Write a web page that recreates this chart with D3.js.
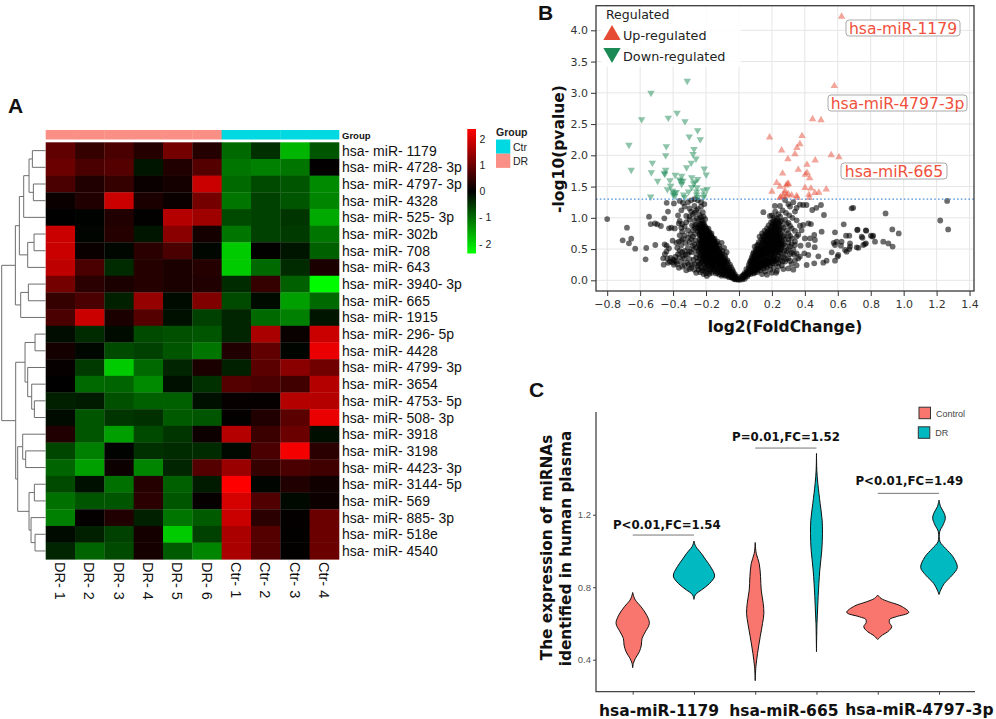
<!DOCTYPE html>
<html>
<head>
<meta charset="utf-8">
<script src="https://cdn.jsdelivr.net/npm/d3@7"></script>
<style>
  html, body { margin: 0; padding: 0; background: #fff; }
  svg { display: block; }
</style>
</head>
<body>
<div class="container"></div>
<script>
/* ===== DATA ===== */

// panel A
var mirnas = ["hsa- miR- 1179","hsa- miR- 4728- 3p","hsa- miR- 4797- 3p","hsa- miR- 4328","hsa- miR- 525- 3p",
  "hsa- miR- 302b","hsa- miR- 708","hsa- miR- 643","hsa- miR- 3940- 3p","hsa- miR- 665","hsa- miR- 1915",
  "hsa- miR- 296- 5p","hsa- miR- 4428","hsa- miR- 4799- 3p","hsa- miR- 3654","hsa- miR- 4753- 5p","hsa- miR- 508- 3p",
  "hsa- miR- 3918","hsa- miR- 3198","hsa- miR- 4423- 3p","hsa- miR- 3144- 5p","hsa- miR- 569","hsa- miR- 885- 3p",
  "hsa- miR- 518e","hsa- miR- 4540"];
var samples = ["DR- 1","DR- 2","DR- 3","DR- 4","DR- 5","DR- 6","Ctr- 1","Ctr- 2","Ctr- 3","Ctr- 4"];
var sampleGroup = ["DR","DR","DR","DR","DR","DR","Ctr","Ctr","Ctr","Ctr"];
var heatValues = [
  [.9,.5,.7,.35,1.1,.35,-1,-.45,-1.7,-.8],
  [1,.7,.8,-.2,.3,.8,-1.1,-1.2,-1.1,.02],
  [.7,.3,.5,.1,.2,1.9,-1,-.7,-.8,-1.3],
  [.1,.3,1.9,.25,.1,1.1,-1.1,-.6,-.8,-1.25],
  [0,-.02,.3,.03,1.7,1.5,-.7,-.6,-.5,-1.6],
  [1.9,-.05,.35,-.2,1.3,.2,-1.1,-.6,-.55,-1.1],
  [1.9,.1,-.07,.4,.7,-.06,-1.9,.03,-.2,-.9],
  [1.8,.7,-.4,.35,.25,.35,-1.9,-1,-.4,.25],
  [1.1,.4,.25,.35,.25,.3,-.4,.5,-.9,-2.35],
  [.5,.7,-.3,1.4,-.1,1.2,-.7,-.1,-1.5,-1],
  [.7,1.9,.25,.8,-.15,-.6,-.35,-1,-1.2,-.2],
  [-.12,-.4,-.1,-.7,-.75,-.8,-.35,1.6,.08,1.9],
  [.2,-.07,-.7,-.6,-.8,-1.1,.3,.9,-.05,2.2],
  [.07,-.55,-1.9,-1,-.35,.25,-.3,.85,1.3,1.05],
  [0,-1,-.95,-1.3,-.15,-.45,.8,.7,.6,1.7],
  [-.3,-.25,-.75,-.9,-.9,-.15,.06,.06,1.7,1.7],
  [-.1,-.8,-.5,-.45,-.85,-.8,.03,.3,.85,2.2],
  [.3,-.8,-1.5,-.7,-.5,.12,1.7,.55,1,-.13],
  [-.65,-1.2,-.03,-.45,-.4,-.4,-.08,.7,2.3,.4],
  [-.95,-1.5,.12,-1.25,-.35,.8,1.45,.5,.7,.6],
  [-.7,-.15,-1.05,.35,-.9,-.25,2.4,-.05,.3,.15],
  [-1.05,-.8,-.8,.4,-.8,.07,2,.75,-.08,.12],
  [-1.2,.05,.3,-.3,-1.1,-.85,1.9,.4,.05,1],
  [-.1,-.3,-.6,.2,-1.9,-.6,1.6,.8,.03,1],
  [-.35,-.95,-.7,.2,-.85,-1.25,1.6,.8,.03,1]
];
var heatTicks = [2, 1, 0, -1, -2];
// row dendrogram: [merge height, child, child], a number is a row index
var rowTree = [132,
  [91,
    [79,
      [66, [50, [40, 0, 1], [37, 2, 3]], 4],
      [54, [35, 5, 6], 7]],
    [75, [52, 8, 9], 10]],
  [90,
    [62, [32, 11, 12], [54, 13, [42, 14, [34, 15, 16]]]],
    [84,
      [69, 17, [60, 18, 19]],
      [50, [34, 20, 21], [44, 22, [32, 23, 24]]]]]
];

// panel B
var upPoints = [[.623,4.22],[.579,3.11],[.447,2.58],[.498,2.565],[.186,2.288],[.383,2.31],[.37,2.18],[.352,2.12],[.259,2.08],[.34,2.02],
  [.56,2.005],[.607,1.97],[.297,1.94],[.463,1.92],[.413,1.85],[.36,1.77],[.265,1.71],[.413,1.72],[.403,1.69],[.429,1.637],
  [.229,1.56],[.249,1.5],[.286,1.52],[.295,1.54],[.3,1.545],[.401,1.48],[.437,1.47],[.53,1.455],[.2,1.42],[.461,1.4],
  [.485,1.405],[.279,1.43],[.275,1.39],[.299,1.38],[.289,1.36],[.32,1.36],[.35,1.35],[.425,1.37],[.253,1.33],[.269,1.34],
  [.427,1.32],[.249,1.32],[.354,1.32]];
var downPoints = [[-.314,3.19],[-.534,2.997],[-.591,2.576],[-.429,2.6],[-.376,2.68],[-.328,2.544],[-.251,2.4],[-.302,2.3],[-.235,2.256],[-.668,2.165],
  [-.441,2.144],[-.273,2.1],[-.279,2.02],[-.445,2],[-.261,1.945],[-.29,1.88],[-.526,1.88],[-.318,1.807],[-.211,1.785],[-.654,1.765],
  [-.532,1.728],[-.445,1.765],[-.453,1.72],[-.45,1.7],[-.199,1.69],[-.387,1.685],[-.348,1.67],[-.287,1.648],[-.419,1.6],[-.494,1.589],
  [-.351,1.59],[-.36,1.61],[-.34,1.59],[-.251,1.62],[-.267,1.58],[-.275,1.55],[-.348,1.54],[-.415,1.51],[-.287,1.49],[-.255,1.485],
  [-.435,1.456],[-.306,1.42],[-.194,1.46],[-.215,1.44],[-.403,1.43],[-.393,1.4],[-.381,1.41],[-.257,1.42],[-.399,1.37],[-.536,1.338],
  [-.336,1.37],[-.33,1.33],[-.257,1.37],[-.251,1.33],[-.211,1.37],[-.215,1.33],[-.389,1.35]];
var grayLeftSparse = [[-.8,.98],[-.546,1.018],[-.453,.992],[-.431,1.1],[-.439,1.24],[-.395,1.23],[-.36,1.27],[-.34,1.24],[-.31,1.25],[-.29,1.28],
  [-.27,1.3],[-.25,1.28],[-.23,1.25],[-.21,1.22],[-.33,1.18],[-.3,1.15],[-.27,1.19],[-.25,1.14],[-.23,1.18],[-.35,1.12],
  [-.29,1.1],[-.27,1.08],[-.28,1.05],[-.26,1.12],[-.24,1.05],[-.22,1.09],[-.37,1.04],[-.32,1.03],[-.3,1.02],[-.68,.842],
  [-.536,.9],[-.51,.91],[-.496,.896],[-.474,.869],[-.425,.832],[-.411,.842],[-.365,.91],[-.36,.95],[-.345,.9],[-.33,.86],
  [-.32,.93],[-.3,.97],[-.285,.88],[-.27,.96],[-.255,.99],[-.31,.8],[-.345,.78],[-.36,.72],[-.295,.74],[-.28,.8],
  [-.706,.64],[-.654,.667],[-.668,.592],[-.63,.506],[-.563,.517],[-.567,.336],[-.508,.565],[-.451,.576],[-.439,.554],[-.425,.512],
  [-.46,.352],[-.457,.25],[-.403,.634],[-.38,.6],[-.365,.62],[-.35,.56],[-.34,.66],[-.325,.6],[-.31,.52],[-.375,.52],
  [-.36,.47],[-.345,.45],[-.385,.38],[-.4,.33],[-.415,.36],[-.435,.35],[-.38,.3],[-.395,.25],[-.37,.42],[-.33,.47],
  [-.31,.42],[-.33,.35],[-.35,.3],[-.365,.2],[-.315,.28],[-.3,.34],[-.29,.45],[-.28,.55],[-.3,.61],[-.265,.64],
  [-.285,.25],[-.3,.18],[-.27,.17],[-.25,.22],[-.26,.12],[-.235,.13],[-.215,.1],[-.195,.07],[-.275,.33],[-.26,.42]];
var grayLeftDense = [[-.01,.02],[-.02,.015],[-.025,.03],[-.03,.02],[-.015,.035],[-.005,.01],[-.02,.055],[-.03,.06],[-.04,.05],[-.045,.045],
  [-.05,.06],[-.035,.04],[-.06,.05],[-.03,.085],[-.045,.08],[-.055,.09],[-.065,.075],[-.075,.08],[-.04,.1],[-.04,.125],
  [-.055,.12],[-.07,.11],[-.08,.125],[-.09,.115],[-.1,.1],[-.065,.135],[-.055,.16],[-.07,.155],[-.085,.165],[-.095,.15],
  [-.105,.16],[-.12,.14],[-.08,.18],[-.06,.2],[-.075,.205],[-.09,.195],[-.105,.2],[-.12,.19],[-.135,.185],[-.15,.17],
  [-.1,.22],[-.07,.24],[-.085,.25],[-.1,.245],[-.115,.235],[-.13,.25],[-.145,.23],[-.16,.21],[-.175,.18],[-.08,.29],
  [-.095,.28],[-.11,.295],[-.125,.28],[-.14,.29],[-.155,.27],[-.17,.255],[-.185,.23],[-.2,.2],[-.09,.33],[-.105,.32],
  [-.12,.335],[-.135,.325],[-.15,.335],[-.165,.31],[-.18,.3],[-.195,.28],[-.21,.25],[-.1,.37],[-.115,.365],[-.13,.375],
  [-.145,.37],[-.16,.375],[-.175,.35],[-.19,.34],[-.205,.32],[-.225,.3],[-.11,.41],[-.125,.42],[-.14,.41],[-.155,.42],
  [-.17,.41],[-.185,.395],[-.2,.38],[-.215,.36],[-.24,.35],[-.12,.46],[-.135,.455],[-.15,.465],[-.165,.455],[-.18,.45],
  [-.195,.44],[-.21,.42],[-.23,.41],[-.13,.5],[-.145,.505],[-.16,.5],[-.175,.5],[-.19,.49],[-.205,.48],[-.22,.46],
  [-.245,.46],[-.14,.55],[-.155,.545],[-.17,.55],[-.185,.54],[-.2,.535],[-.215,.52],[-.235,.51],[-.145,.59],[-.16,.6],
  [-.175,.59],[-.19,.585],[-.205,.58],[-.22,.57],[-.245,.56],[-.15,.64],[-.165,.635],[-.18,.64],[-.195,.63],[-.21,.62],
  [-.23,.61],[-.16,.68],[-.175,.68],[-.19,.675],[-.205,.67],[-.22,.66],[-.24,.65],[-.17,.72],[-.185,.73],[-.2,.72],
  [-.215,.71],[-.23,.7],[-.18,.77],[-.195,.77],[-.21,.76],[-.225,.75],[-.24,.74],[-.2,.81],[-.215,.82],[-.23,.8],
  [-.25,.79],[-.205,.86],[-.22,.87],[-.235,.85],[-.25,.84],[-.265,.83],[-.215,.92],[-.23,.91],[-.245,.9],[-.26,.89],
  [-.225,.96],[-.24,.97],[-.205,.98],[-.215,1.02],[-.23,1.01],[-.19,.64],[-.14,.49],[-.125,.44],[-.11,.38],[-.09,.27],
  [-.13,.62],[-.12,.55],[-.1,.47],[-.085,.4],[-.07,.32],[-.055,.25],[-.04,.17],[-.105,.6],[-.09,.52],[-.075,.45]];
// second pass over the black part of the left arm
var grayLeftFill = [[-.112,.213],[-.127,.171],[-.143,.208],[-.158,.243],[-.172,.221],[-.093,.228],[-.118,.262],[-.136,.268],[-.152,.301],[-.166,.284],
  [-.183,.268],[-.197,.247],[-.107,.272],[-.088,.309],[-.103,.347],[-.122,.312],[-.141,.352],[-.157,.35],[-.171,.329],[-.186,.321],
  [-.202,.297],[-.218,.281],[-.113,.392],[-.128,.395],[-.146,.392],[-.162,.396],[-.178,.381],[-.193,.362],[-.209,.346],[-.224,.333],
  [-.117,.437],[-.133,.433],[-.149,.44],[-.163,.437],[-.177,.43],[-.192,.418],[-.207,.4],[-.222,.385],[-.238,.38],[-.126,.479],
  [-.142,.482],[-.156,.479],[-.171,.478],[-.186,.471],[-.201,.459],[-.216,.441],[-.232,.436],[-.135,.526],[-.151,.524],[-.166,.525],
  [-.181,.519],[-.196,.513],[-.211,.5],[-.227,.488],[-.243,.49],[-.143,.571],[-.159,.566],[-.174,.572],[-.189,.562],[-.204,.556],
  [-.219,.543],[-.234,.535],[-.153,.615],[-.168,.612],[-.183,.614],[-.198,.607],[-.213,.598],[-.228,.586],[-.243,.59],[-.158,.657],
  [-.173,.66],[-.188,.654],[-.202,.648],[-.217,.641],[-.232,.63],[-.167,.701],[-.182,.703],[-.197,.695],[-.211,.69],[-.226,.68],
  [-.178,.748],[-.192,.749],[-.207,.738],[-.222,.728],[-.237,.718],[-.19,.793],[-.205,.79],[-.22,.778],[-.236,.77],[-.21,.84],
  [-.226,.83],[-.242,.815],[-.198,.835],[-.222,.9],[-.238,.88],[-.212,.895],[-.185,.825],[-.167,.75],[-.148,.665],[-.137,.59],
  [-.118,.505],[-.102,.425],[-.083,.358],[-.068,.29],[-.048,.21],[-.035,.14],[-.025,.1],[-.012,.06],[-.095,.09],[-.11,.125],
  [-.13,.12],[-.145,.145],[-.16,.175],[-.175,.145],[-.19,.17],[-.205,.155],[-.215,.19],[-.23,.21],[-.245,.25],[-.25,.3],
  [-.235,.27],[-.26,.36],[-.27,.26],[-.14,.11],[-.165,.12],[-.12,.095],[-.08,.07],[-.105,.075],[-.18,.105],[-.245,.17],
  [-.225,.16],[-.2,.115],[-.29,.2],[-.305,.25],[-.32,.16],[-.345,.22],[-.33,.24],[-.39,.32],[-.405,.29],[-.42,.3],
  [-.43,.28],[-.375,.26],[-.36,.37],[-.34,.39],[-.325,.41],[-.3,.46],[-.275,.5],[-.27,.58],[-.26,.52],[-.29,.66],
  [-.31,.68],[-.33,.72],[-.28,.7],[-.265,.74],[-.27,.87],[-.35,.84],[-.39,.83],[-.44,.46],[-.45,.42],[-.35,.64]];
var grayRightSparse = [[.148,1.09],[.188,1.03],[.218,1.19],[.249,1.19],[.28,1.285],[.31,1.18],[.34,1.1],[.39,1.205],[.41,1.205],[.445,1.125],
  [.47,1.16],[.498,1.205],[.516,1.045],[.684,1.152],[.694,1.16],[.636,.896],[.718,.805],[.773,.794],[.801,.714],[.815,.714],
  [.583,.768],[.502,.778],[.437,.9],[.421,.91],[.39,.885],[.37,.875],[.457,.725],[.431,.672],[.461,.645],[.4,.67],
  [.35,.7],[.36,.73],[.65,.714],[.67,.714],[.593,.618],[.575,.6],[.583,.565],[.623,.618],[.619,.554],[.674,.592],
  [.674,.54],[.644,.485],[.745,.698],[.75,.68],[.771,.592],[.755,.565],[.826,.618],[.715,.528],[.725,.52],[.563,.448],
  [.603,.405],[.599,.38],[.654,.458],[.67,.5],[.583,.314],[.532,.314],[.512,.282],[.457,.272],[.482,.384],[.411,.245],
  [.421,.405],[.397,.432],[.37,.38],[.36,.35],[.34,.32],[.35,.43],[.33,.49],[.34,.565],[.374,.554],[.421,.565],
  [.46,.53],[.89,1.07],[.931,.815],[.97,.75],[1.222,.957],[1.27,.815],[1.264,1.27],[.876,.618],[.907,.59],[.933,.54],
  [.81,.7],[.77,.8],[.72,.81],[.765,.58],[.3,1.22],[.33,1.25],[.35,1.16],[.37,1.21],[.265,1.12],[.285,1.08],
  [.305,1.04],[.325,1],[.35,.96],[.28,.97],[.3,.92],[.32,.83],[.34,.79],[.38,.8],[.3,.75],[.28,.66],
  [.32,.67],[.3,.6],[.31,.54],[.29,.47],[.31,.42],[.3,.35],[.28,.3],[.32,.26],[.35,.24],[.26,.24],
  [.27,.18],[.23,.15],[.2,.12],[.17,.09],[.14,.1],[.3,.19],[.33,.17]];
var grayRightDense = [[.005,.01],[.012,.03],[.02,.015],[.025,.04],[.015,.06],[.03,.05],[.035,.025],[.04,.07],[.028,.085],[.05,.06],
  [.045,.1],[.035,.12],[.055,.09],[.06,.12],[.05,.14],[.07,.1],[.075,.14],[.06,.165],[.045,.18],[.085,.12],
  [.09,.16],[.075,.18],[.06,.21],[.1,.14],[.105,.18],[.09,.2],[.075,.23],[.06,.25],[.115,.17],[.12,.2],
  [.105,.225],[.09,.25],[.075,.27],[.135,.2],[.12,.24],[.105,.265],[.09,.29],[.07,.31],[.15,.23],[.135,.25],
  [.12,.28],[.105,.31],[.085,.33],[.165,.23],[.15,.27],[.135,.295],[.12,.32],[.1,.35],[.08,.38],[.18,.26],
  [.165,.29],[.15,.31],[.135,.34],[.115,.37],[.095,.4],[.195,.28],[.18,.31],[.165,.335],[.15,.36],[.13,.385],
  [.11,.42],[.09,.45],[.215,.3],[.2,.33],[.185,.355],[.165,.38],[.145,.41],[.125,.44],[.105,.47],[.225,.35],
  [.21,.38],[.195,.4],[.175,.43],[.155,.455],[.135,.48],[.115,.51],[.095,.54],[.24,.4],[.22,.43],[.205,.45],
  [.19,.47],[.17,.49],[.15,.51],[.13,.53],[.11,.56],[.25,.45],[.23,.48],[.215,.5],[.2,.52],[.18,.54],
  [.16,.56],[.14,.58],[.12,.61],[.255,.5],[.24,.53],[.225,.55],[.205,.57],[.185,.59],[.165,.61],[.145,.63],
  [.26,.56],[.24,.58],[.225,.6],[.21,.62],[.19,.64],[.17,.66],[.15,.68],[.125,.7],[.25,.63],[.235,.65],
  [.22,.67],[.2,.69],[.18,.71],[.16,.73],[.14,.75],[.245,.69],[.23,.71],[.21,.73],[.195,.75],[.175,.77],
  [.155,.79],[.24,.74],[.225,.76],[.205,.78],[.19,.8],[.17,.83],[.245,.8],[.23,.82],[.215,.84],[.2,.86],
  [.18,.88],[.24,.86],[.225,.88],[.21,.9],[.195,.93],[.24,.92],[.225,.94],[.21,.96],[.23,.99],[.215,1.01],
  [.2,1.04],[.26,.95],[.25,1.02],[.24,1.06],[.22,1.1],[.27,.84],[.275,.72],[.27,.58],[.275,.47],[.27,.38]];
// second pass over the black part of the right arm
var grayRightFill = [[.022,.075],[.038,.095],[.052,.115],[.067,.125],[.082,.145],[.098,.165],[.112,.195],[.128,.222],[.143,.243],[.158,.258],
  [.172,.272],[.188,.295],[.208,.315],[.072,.205],[.087,.224],[.102,.242],[.117,.262],[.132,.272],[.148,.292],[.163,.312],[.178,.332],[.193,.352],
  [.21,.358],[.067,.292],[.082,.309],[.097,.328],[.112,.342],[.127,.362],[.142,.378],[.157,.392],[.172,.405],[.187,.425],[.202,.425],[.218,.41],
  [.076,.348],[.091,.372],[.106,.392],[.121,.412],[.136,.428],[.151,.432],[.166,.448],[.182,.462],[.197,.478],[.212,.472],[.228,.455],[.243,.44],
  [.085,.422],[.1,.44],[.115,.455],[.13,.465],[.145,.478],[.16,.5],[.175,.515],[.19,.52],[.207,.525],[.222,.52],[.238,.5],[.253,.48],
  [.104,.498],[.119,.49],[.134,.505],[.149,.545],[.164,.535],[.18,.565],[.195,.56],[.21,.55],[.228,.57],[.245,.56],[.26,.53],
  [.118,.575],[.133,.56],[.148,.605],[.163,.59],[.178,.615],[.193,.61],[.208,.6],[.222,.625],[.24,.61],[.255,.59],
  [.135,.65],[.15,.645],[.165,.64],[.18,.66],[.195,.665],[.21,.65],[.228,.645],[.244,.665],[.258,.64],[.145,.71],
  [.16,.695],[.172,.72],[.188,.695],[.203,.715],[.218,.7],[.235,.69],[.25,.71],[.167,.755],[.185,.745],[.2,.76],
  [.215,.755],[.23,.74],[.25,.75],[.18,.8],[.197,.8],[.212,.81],[.228,.79],[.243,.82],[.195,.85],[.21,.865],
  [.228,.85],[.243,.89],[.205,.925],[.22,.915],[.235,.96],[.25,.94],[.26,.87],[.26,.79],[.27,.7],[.265,.62],
  [.28,.55],[.28,.42],[.285,.34],[.265,.3],[.25,.32],[.24,.28],[.255,.37],[.235,.34],[.22,.32],[.225,.27],
  [.205,.27],[.19,.24],[.17,.21],[.15,.19],[.13,.16],[.11,.13],[.09,.11],[.21,.2],[.24,.22],[.16,.14],
  [.19,.17],[.225,.12],[.3,.5],[.32,.44],[.31,.31],[.335,.41],[.32,.58],[.34,.62],[.29,.8],[.31,.87],
  [.29,.9],[.31,.71],[.3,.66]];
var pCutoff = 1.3;
var geneLabels = ["hsa-miR-1179", "hsa-miR-4797-3p", "hsa-miR-665"];

// panel C
var violinKeys = ["ctl1179", "dr1179", "ctl665", "dr665", "ctl4797", "dr4797"];
var violinGroups = ["Control", "DR", "Control", "DR", "Control", "DR"];
// [expression, density]
var violinProfiles = [
  [[.771,0],[.75,.3],[.729,.8],[.692,2.5],[.646,4.2],[.6,5],[.554,3.8],[.518,2.8],[.481,2.6],[.444,2],[.407,.8],[.38,.2],[.356,0]],
  [[1.055,0],[1.04,.2],[1.023,.6],[.987,2.2],[.95,3.6],[.913,5],[.862,6.2],[.821,4.7],[.784,2.2],[.766,.8],[.75,.2],[.733,0]],
  [[1.047,0],[.987,.3],[.931,1.2],[.858,1.6],[.784,1.8],[.711,2.4],[.656,2.6],[.6,2.2],[.527,1.5],[.435,.7],[.361,.2],[.284,0]],
  [[1.538,0],[1.446,.1],[1.373,.4],[1.262,1.1],[1.17,1.7],[1.097,1.8],[1.005,1.6],[.895,1],[.748,.5],[.6,.15],[.444,0]],
  [[.757,0],[.738,1],[.72,3.3],[.696,7],[.661,9.3],[.637,5.5],[.623,3.6],[.604,3.5],[.582,4.2],[.554,3],[.536,1.4],[.512,0]],
  [[1.281,0],[1.244,.5],[1.207,1.6],[1.18,1.9],[1.143,1.2],[1.106,.2],[1.051,.3],[1.014,2],[.968,4.2],[.909,5.5],[.867,4],[.821,1.6],[.784,.5],[.76,0]]
];
var bracketLevels = [1.088, 1.568, 1.318];
var bracketLabels = ["P<0.01,FC=1.54", "P=0.01,FC=1.52", "P<0.01,FC=1.49"];
var categoryLabels = ["hsa-miR-1179", "hsa-miR-665", "hsa-miR-4797-3p"];
var violinTicks = [0.4, 0.8, 1.2];

/* ===== SET UP ===== */

var svg = d3.select('.container')
  .append('svg')
  .attr('width', 996)
  .attr('height', 719);

var sans = 'Liberation Sans, Arial, sans-serif';
var dejavu = 'DejaVu Sans, sans-serif';

function panelLetter(txt, x, y) {
  svg.append('text')
    .attr('x', x).attr('y', y)
    .style('font', 'bold 21px ' + sans)
    .attr('fill', '#111')
    .text(txt);
}
panelLetter('A', 8, 113);
panelLetter('B', 538, 19.5);
panelLetter('C', 529, 397);

/* ===== PANEL A: HEATMAP ===== */

var colX = d3.scaleBand().domain(samples).range([45.7, 339]);
var rowY = d3.scaleBand().domain(mirnas).range([142.3, 559.3]);
var heatColor = d3.scaleLinear().domain([-2.4, 0, 2.4]).range(['#00ff00', '#000000', '#ff0000']);
var groupColor = {DR: '#fa8f86', Ctr: '#00d9e1'};

var heat = svg.append('g');

heat.selectAll('rect.ann')
  .data(samples)
  .enter().append('rect')
  .attr('class', 'ann')
  .attr('x', function(d) { return colX(d); })
  .attr('y', 130)
  .attr('width', colX.bandwidth() + 0.3)
  .attr('height', 9.5)
  .attr('fill', function(d, i) { return groupColor[sampleGroup[i]]; });

mirnas.forEach(function(m, r) {
  heat.selectAll('rect.r' + r)
    .data(heatValues[r])
    .enter().append('rect')
    .attr('class', 'r' + r)
    .attr('x', function(d, c) { return colX(samples[c]); })
    .attr('y', rowY(m))
    .attr('width', colX.bandwidth() + 0.3)
    .attr('height', rowY.bandwidth() + 0.3)
    .attr('fill', function(d) { return heatColor(d); });
});

heat.selectAll('text.row')
  .data(mirnas)
  .enter().append('text')
  .attr('class', 'row')
  .attr('x', 342)
  .attr('y', function(d) { return rowY(d) + rowY.bandwidth() / 2 + 5; })
  .style('font', '14px ' + sans)
  .attr('fill', '#111')
  .text(function(d) { return d; });

heat.append('text')
  .attr('x', 342).attr('y', 138.5)
  .style('font', 'bold 9.5px ' + sans)
  .attr('fill', '#111')
  .text('Group');

heat.selectAll('text.col')
  .data(samples)
  .enter().append('text')
  .attr('class', 'col')
  .attr('transform', function(d) {
    return 'translate(' + (colX(d) + colX.bandwidth() / 2 - 5.2) + ',562) rotate(90)';
  })
  .style('font', '14.5px ' + sans)
  .attr('fill', '#111')
  .text(function(d) { return d; });

// dendrogram
var dendroX = d3.scaleLinear().domain([0, 132]).range([45.7, 1.7]);
function toNode(t) {
  if (typeof t === 'number') return {row: t, height: 0};
  return {height: t[0], children: [toNode(t[1]), toNode(t[2])]};
}
var treeRoot = d3.hierarchy(toNode(rowTree));
treeRoot.eachAfter(function(n) {
  n.cy = n.children ? d3.mean(n.children, function(c) { return c.cy; })
                    : rowY(mirnas[n.data.row]) + rowY.bandwidth() / 2;
});
var dendro = d3.path();
treeRoot.each(function(n) {
  if (!n.children) return;
  var x = dendroX(n.data.height);
  dendro.moveTo(dendroX(n.children[0].data.height), n.children[0].cy);
  dendro.lineTo(x, n.children[0].cy);
  dendro.lineTo(x, n.children[1].cy);
  dendro.lineTo(dendroX(n.children[1].data.height), n.children[1].cy);
});
heat.append('path')
  .attr('d', dendro.toString())
  .attr('fill', 'none')
  .attr('stroke', '#6e6e6e')
  .attr('stroke-width', 1);

// colour key
var keyScale = d3.scaleLinear().domain([2.38, -2.35]).range([129, 253.5]);
var defs = svg.append('defs');
var grad = defs.append('linearGradient')
  .attr('id', 'heatKey')
  .attr('x1', 0).attr('x2', 0).attr('y1', 0).attr('y2', 1);
grad.selectAll('stop')
  .data([2.4, 0, -2.4])
  .enter().append('stop')
  .attr('offset', function(d, i) { return i / 2; })
  .attr('stop-color', function(d) { return heatColor(d); });
heat.append('rect')
  .attr('x', 467.3).attr('y', 129)
  .attr('width', 8.7).attr('height', 124.5)
  .attr('fill', 'url(#heatKey)');
heat.selectAll('text.key')
  .data(heatTicks)
  .enter().append('text')
  .attr('class', 'key')
  .attr('x', function(d) { return d < 0 ? 479 : 479.5; })
  .attr('y', function(d) { return keyScale(d) + 3.5; })
  .style('font', '10.5px ' + sans)
  .attr('fill', '#222')
  .text(function(d) { return d < 0 ? '- ' + (-d) : d; });

heat.append('text')
  .attr('x', 496).attr('y', 136)
  .style('font', 'bold 10.5px ' + sans)
  .attr('fill', '#222')
  .text('Group');
['Ctr', 'DR'].forEach(function(g, i) {
  heat.append('rect')
    .attr('x', 496).attr('y', 139.5 + i * 14.2)
    .attr('width', 14.3).attr('height', 14.2)
    .attr('fill', groupColor[g]);
  heat.append('text')
    .attr('x', 513).attr('y', 151 + i * 14.2)
    .style('font', '10.5px ' + sans)
    .attr('fill', '#222')
    .text(g);
});

/* ===== PANEL B: VOLCANO ===== */

var volX = d3.scaleLinear().domain([-0.868, 1.427]).range([596, 974]);
var volY = d3.scaleLinear().domain([-0.171, 4.394]).range([291, 5.7]);
var vol = svg.append('g');

vol.selectAll('line.gx')
  .data(volX.ticks(12))
  .enter().append('line')
  .attr('class', 'gx')
  .attr('x1', function(d) { return volX(d); })
  .attr('x2', function(d) { return volX(d); })
  .attr('y1', 5.7).attr('y2', 291)
  .attr('stroke', '#e6e6e6');
vol.selectAll('line.gy')
  .data(volY.ticks(9))
  .enter().append('line')
  .attr('class', 'gy')
  .attr('y1', function(d) { return volY(d); })
  .attr('y2', function(d) { return volY(d); })
  .attr('x1', 596).attr('x2', 974)
  .attr('stroke', '#e6e6e6');

var grayPoints = grayLeftSparse.concat(grayLeftDense, grayLeftFill, grayRightSparse, grayRightDense, grayRightFill);
vol.selectAll('circle')
  .data(grayPoints)
  .enter().append('circle')
  .attr('cx', function(d) { return volX(d[0]); })
  .attr('cy', function(d) { return volY(d[1]); })
  .attr('r', 2.9)
  .attr('fill', '#000')
  .attr('fill-opacity', 0.58);

var upSym = d3.symbol().type(d3.symbolTriangle).size(24);
vol.selectAll('path.up')
  .data(upPoints)
  .enter().append('path')
  .attr('class', 'up')
  .attr('d', upSym)
  .attr('transform', function(d) { return 'translate(' + volX(d[0]) + ',' + volY(d[1]) + ')'; })
  .attr('fill', '#e64b35')
  .attr('fill-opacity', 0.5);
vol.selectAll('path.down')
  .data(downPoints)
  .enter().append('path')
  .attr('class', 'down')
  .attr('d', upSym)
  .attr('transform', function(d) { return 'translate(' + volX(d[0]) + ',' + volY(d[1]) + ') rotate(180)'; })
  .attr('fill', '#1b8a55')
  .attr('fill-opacity', 0.5);

vol.append('line')
  .attr('x1', 596).attr('x2', 974)
  .attr('y1', volY(pCutoff)).attr('y2', volY(pCutoff))
  .attr('stroke', '#4a8fd8')
  .attr('stroke-width', 1.3)
  .attr('stroke-dasharray', '1.6 2.2');

var volXAxis = d3.axisBottom(volX)
  .tickValues(d3.range(-8, 15, 2).map(function(d) { return d / 10; }))
  .tickFormat(d3.format('.1f')).tickSize(5).tickPadding(4);
var volYAxis = d3.axisLeft(volY)
  .tickValues(d3.range(0, 9).map(function(d) { return d / 2; }))
  .tickFormat(d3.format('.1f')).tickSize(5).tickPadding(3);

vol.append('g').attr('transform', 'translate(0,291)').call(volXAxis)
  .style('font', '11px ' + dejavu);
vol.append('g').attr('transform', 'translate(596,0)').call(volYAxis)
  .style('font', '11px ' + dejavu);
vol.selectAll('.domain').remove();
vol.selectAll('.tick line').attr('stroke', '#333');
vol.selectAll('.tick text').attr('fill', '#333');

vol.append('rect')
  .attr('x', 596).attr('y', 5.7)
  .attr('width', 378).attr('height', 285.3)
  .attr('fill', 'none')
  .attr('stroke', '#3a3a3a')
  .attr('stroke-width', 1.3);

vol.append('text')
  .attr('x', 785).attr('y', 332)
  .attr('text-anchor', 'middle')
  .style('font', 'bold 15.5px ' + dejavu)
  .attr('fill', '#111')
  .text('log2(FoldChange)');
vol.append('text')
  .attr('transform', 'translate(564,149) rotate(-90)')
  .attr('text-anchor', 'middle')
  .style('font', 'bold 15.5px ' + dejavu)
  .attr('fill', '#111')
  .text('-log10(pvalue)');

// legend
vol.append('rect')
  .attr('x', 601).attr('y', 7).attr('width', 140).attr('height', 60)
  .attr('fill', '#fff').attr('fill-opacity', 0.85);
var legSym = d3.symbol().type(d3.symbolTriangle).size(130);
vol.append('text')
  .attr('x', 606).attr('y', 19)
  .style('font', '12.5px ' + dejavu)
  .attr('fill', '#222')
  .text('Regulated');
vol.append('path')
  .attr('d', legSym)
  .attr('transform', 'translate(612,35)')
  .attr('fill', '#e64b35');
vol.append('text')
  .attr('x', 623).attr('y', 39.5)
  .style('font', '12.8px ' + dejavu)
  .attr('fill', '#222')
  .text('Up-regulated');
vol.append('path')
  .attr('d', legSym)
  .attr('transform', 'translate(612,53) rotate(180)')
  .attr('fill', '#1b8a55');
vol.append('text')
  .attr('x', 623).attr('y', 61)
  .style('font', '12.8px ' + dejavu)
  .attr('fill', '#222')
  .text('Down-regulated');

// gene callouts
var geneBoxes = [[846, 20, 114], [828, 95, 139], [841, 163, 106]];
geneLabels.forEach(function(g, i) {
  var b = geneBoxes[i];
  vol.append('rect')
    .attr('x', b[0]).attr('y', b[1])
    .attr('width', b[2]).attr('height', 16)
    .attr('rx', 3)
    .attr('fill', '#fff')
    .attr('stroke', '#aaa');
  vol.append('text')
    .attr('x', b[0] + b[2] / 2).attr('y', b[1] + 13.5)
    .attr('text-anchor', 'middle')
    .style('font', '15.6px ' + dejavu)
    .attr('fill', '#f0503c')
    .text(g);
});

/* ===== PANEL C: VIOLINS ===== */

var vioX = d3.scalePoint().domain(violinKeys).range([632.7, 939]);
var vioY = d3.scaleLinear().domain([0.2234, 1.767]).range([691.7, 412]);
var vioW = d3.scaleLinear().domain([0, 10]).range([0, 33.3]);
var vioColor = {Control: '#f8766d', DR: '#00b9c1'};
var vio = svg.append('g');

violinKeys.forEach(function(k, i) {
  var area = d3.area()
    .y(function(d) { return vioY(d[0]); })
    .x0(function(d) { return vioX(k) - vioW(d[1]); })
    .x1(function(d) { return vioX(k) + vioW(d[1]); })
    .curve(d3.curveCatmullRom);
  vio.append('path')
    .attr('d', area(violinProfiles[i]))
    .attr('fill', vioColor[violinGroups[i]])
    .attr('stroke', '#111')
    .attr('stroke-width', 1);
});

var vioYAxis = d3.axisLeft(vioY).tickValues(violinTicks)
  .tickFormat(d3.format('.1f')).tickSize(3).tickPadding(2);
var vioXAxis = d3.axisBottom(vioX).tickFormat('').tickSize(3);
vio.append('g').attr('transform', 'translate(596,0)').call(vioYAxis)
  .style('font', '9.5px ' + sans);
vio.append('g').attr('transform', 'translate(0,691.7)').call(vioXAxis);
vio.selectAll('.domain').remove();
vio.selectAll('.tick line').attr('stroke', '#444');
vio.selectAll('.tick text').attr('fill', '#555');
vio.append('path')
  .attr('d', 'M596,412V691.7H975')
  .attr('fill', 'none')
  .attr('stroke', '#444')
  .attr('stroke-width', 1.3);

var bracketTextX = [666.8, 786, 909.3];
var bracketTextY = [529, 440.7, 485];
bracketLevels.forEach(function(v, i) {
  vio.append('line')
    .attr('x1', vioX(violinKeys[i * 2]))
    .attr('x2', vioX(violinKeys[i * 2 + 1]))
    .attr('y1', vioY(v)).attr('y2', vioY(v))
    .attr('stroke', '#666')
    .attr('stroke-width', 0.9);
  vio.append('text')
    .attr('x', bracketTextX[i]).attr('y', bracketTextY[i])
    .attr('text-anchor', 'middle')
    .style('font', 'bold 11.8px ' + dejavu)
    .attr('fill', '#111')
    .text(bracketLabels[i]);
});

var catTextX = [659, 783.8, 919.5];
var catTextY = [716, 716, 715];
categoryLabels.forEach(function(c, i) {
  vio.append('text')
    .attr('x', catTextX[i]).attr('y', catTextY[i])
    .attr('text-anchor', 'middle')
    .style('font', 'bold 15.5px ' + dejavu)
    .attr('fill', '#111')
    .text(c);
});

vio.append('text')
  .attr('transform', 'translate(552,547.5) rotate(-90)')
  .attr('text-anchor', 'middle')
  .style('font', 'bold 15.3px ' + dejavu)
  .attr('fill', '#111')
  .text('The expression of miRNAs');
vio.append('text')
  .attr('transform', 'translate(570.5,548.5) rotate(-90)')
  .attr('text-anchor', 'middle')
  .style('font', 'bold 15.3px ' + dejavu)
  .attr('fill', '#111')
  .text('identified in human plasma');

// legend
['Control', 'DR'].forEach(function(g, i) {
  vio.append('rect')
    .attr('x', 919 - i * 0.7).attr('y', 407.2 + i * 19.6)
    .attr('width', 11.5).attr('height', 11.5)
    .attr('fill', vioColor[g])
    .attr('stroke', '#333')
    .attr('stroke-width', 1);
  vio.append('text')
    .attr('x', 936 - i * 0.7).attr('y', 416.5 + i * 19.6)
    .style('font', '9px ' + sans)
    .attr('fill', '#444')
    .text(g);
});
</script>
</body>
</html>
